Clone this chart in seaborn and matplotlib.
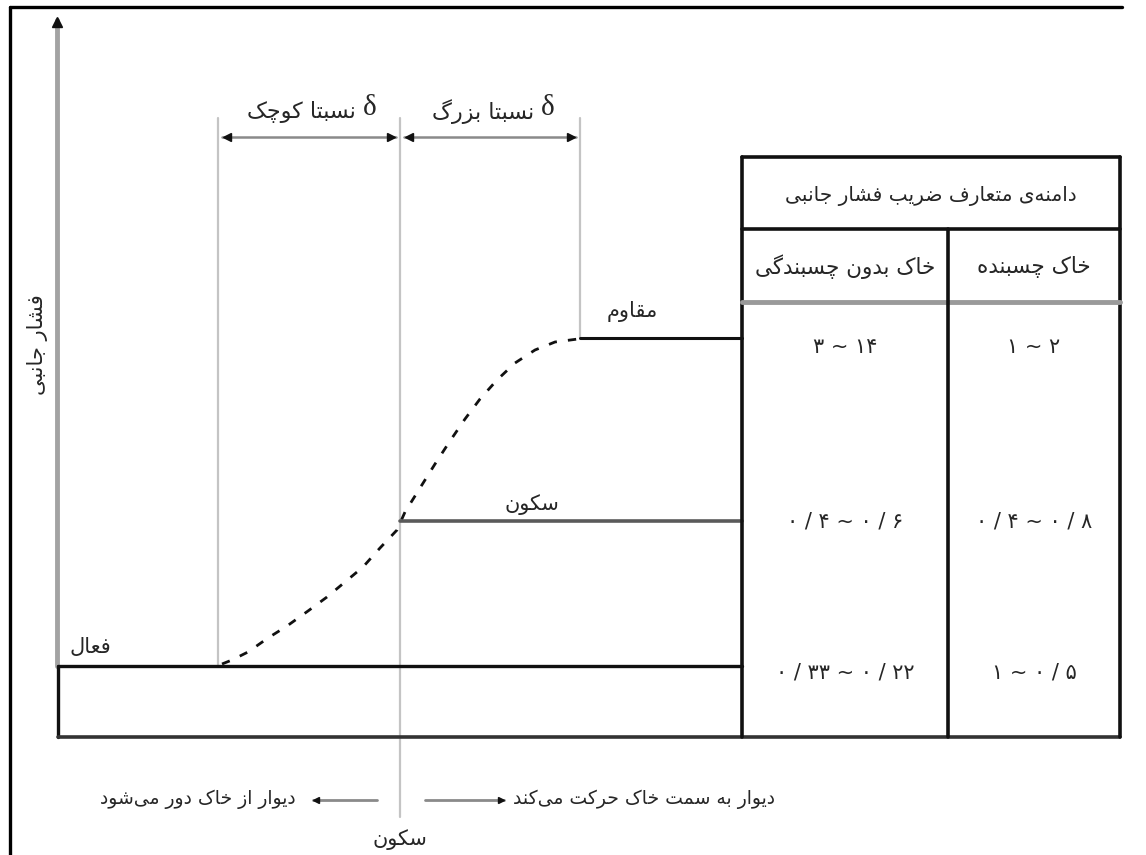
import matplotlib
matplotlib.use("Agg")
import matplotlib.pyplot as plt
import seaborn as sns

# Lateral earth pressure vs wall movement (drawing units, y grows downwards)
curve_x = [222, 232, 248, 268, 287, 308, 327, 345, 363, 380, 397, 405, 420, 435, 450, 465, 480, 497, 515, 535, 555, 578]
curve_y = [664, 660, 652, 638, 626, 611, 597, 582, 567, 548, 530, 512, 488, 464, 441, 419, 399, 380, 363, 350, 342, 339]

# pressure levels and wall positions
level_names = ["فعال", "سکون", "مقاوم"]
level_y = [666, 521, 338]
move_x = [218, 400, 580]
table_left, table_mid, table_right = 742, 948, 1120

# table of coefficients (rows: passive, at rest, active)
table_title = "دامنه‌ی متعارف ضریب فشار جانبی"
col_titles = ["خاک بدون چسبندگی", "خاک چسبنده"]
cohesionless = [("3", "14"), ("0/4", "0/6"), ("0/33", "0/22")]
cohesive = [("1", "2"), ("0/4", "0/8"), ("1", "0/5")]

y_label = "فشار جانبی"
small_label = "نسبتا کوچک"
large_label = "نسبتا بزرگ"
away_label = "دیوار از خاک دور می‌شود"
toward_label = "دیوار به سمت خاک حرکت می‌کند"

# --- minimal persian shaping (matplotlib has no bidi / shaping) ---
FORMS = {
    'ا': ('\uFE8D', '\uFE8E', None, None),
    'آ': ('\uFE81', '\uFE82', None, None),
    'ب': ('\uFE8F', '\uFE90', '\uFE91', '\uFE92'),
    'پ': ('\uFB56', '\uFB57', '\uFB58', '\uFB59'),
    'ت': ('\uFE95', '\uFE96', '\uFE97', '\uFE98'),
    'ث': ('\uFE99', '\uFE9A', '\uFE9B', '\uFE9C'),
    'ج': ('\uFE9D', '\uFE9E', '\uFE9F', '\uFEA0'),
    'چ': ('\uFB7A', '\uFB7B', '\uFB7C', '\uFB7D'),
    'ح': ('\uFEA1', '\uFEA2', '\uFEA3', '\uFEA4'),
    'خ': ('\uFEA5', '\uFEA6', '\uFEA7', '\uFEA8'),
    'د': ('\uFEA9', '\uFEAA', None, None),
    'ذ': ('\uFEAB', '\uFEAC', None, None),
    'ر': ('\uFEAD', '\uFEAE', None, None),
    'ز': ('\uFEAF', '\uFEB0', None, None),
    'ژ': ('\uFB8A', '\uFB8B', None, None),
    'س': ('\uFEB1', '\uFEB2', '\uFEB3', '\uFEB4'),
    'ش': ('\uFEB5', '\uFEB6', '\uFEB7', '\uFEB8'),
    'ص': ('\uFEB9', '\uFEBA', '\uFEBB', '\uFEBC'),
    'ض': ('\uFEBD', '\uFEBE', '\uFEBF', '\uFEC0'),
    'ط': ('\uFEC1', '\uFEC2', '\uFEC3', '\uFEC4'),
    'ظ': ('\uFEC5', '\uFEC6', '\uFEC7', '\uFEC8'),
    'ع': ('\uFEC9', '\uFECA', '\uFECB', '\uFECC'),
    'غ': ('\uFECD', '\uFECE', '\uFECF', '\uFED0'),
    'ف': ('\uFED1', '\uFED2', '\uFED3', '\uFED4'),
    'ق': ('\uFED5', '\uFED6', '\uFED7', '\uFED8'),
    'ک': ('\uFB8E', '\uFB8F', '\uFB90', '\uFB91'),
    'گ': ('\uFB92', '\uFB93', '\uFB94', '\uFB95'),
    'ل': ('\uFEDD', '\uFEDE', '\uFEDF', '\uFEE0'),
    'م': ('\uFEE1', '\uFEE2', '\uFEE3', '\uFEE4'),
    'ن': ('\uFEE5', '\uFEE6', '\uFEE7', '\uFEE8'),
    'ه': ('\uFEE9', '\uFEEA', '\uFEEB', '\uFEEC'),
    'و': ('\uFEED', '\uFEEE', None, None),
    'ی': ('\uFBFC', '\uFBFD', '\uFBFE', '\uFBFF'),
}


def fa(s):
    out = []
    for i, ch in enumerate(s):
        if ch not in FORMS:
            if ch != '\u200c':
                out.append(ch)
            continue
        prev = s[i - 1] if i > 0 else ''
        nxt = s[i + 1] if i + 1 < len(s) else ''
        pj = prev in FORMS and FORMS[prev][2] is not None
        nj = FORMS[ch][2] is not None and nxt in FORMS
        f = FORMS[ch]
        out.append(f[3] if pj and nj else f[1] if pj else f[2] if nj else f[0])
    return ''.join(reversed(out))


DIGITS = str.maketrans("0123456789", "۰۱۲۳۴۵۶۷۸۹")


def fa_range(pair):
    a, b = [p.translate(DIGITS).replace("/", " / ") for p in pair]
    return f"{a} ~ {b}"


def seg(xs, ys, **kw):
    # straight segment through seaborn, no aggregation
    sns.lineplot(x=xs, y=ys, ax=ax, sort=False, estimator=None, **kw)


sns.set_theme(style="white")
plt.rcParams['font.family'] = ['DejaVu Sans']

fig = plt.figure(figsize=(11.46, 8.55), dpi=100)
ax = fig.add_axes([0, 0, 1, 1])
ax.set_xlim(0, 1146)
ax.set_ylim(855, 0)
ax.axis("off")

black = "#111111"
light = "#c4c4c4"
fs = 15

# frame
seg([10, 1122], [7, 7], color="black", lw=2.4)
seg([10, 10], [7, 855], color="black", lw=2.4)

# pressure axis
seg([57, 57], [20, 666], color="#a3a3a3", lw=3.5)
ax.plot([57], [22], marker="^", color=black, ms=7, zorder=3)
ax.text(38, 345, fa(y_label), rotation=90, ha="center", va="center", fontsize=fs)

# guide verticals
bottoms = [level_y[0], 817, level_y[2]]
for x, bottom in zip(move_x, bottoms):
    seg([x, x], [118, bottom], color=light, lw=1.6)

# dimension arrows
for x0, x1 in [(move_x[0], move_x[1]), (move_x[1], move_x[2])]:
    ax.plot([x0 + 4, x1 - 4], [137, 137], color="#8a8a8a", lw=1.8)
    ax.plot([x0 + 9], [137], marker="<", color=black, ms=6)
    ax.plot([x1 - 9], [137], marker=">", color=black, ms=6)

for label, x_right in [(small_label, move_x[1] - 44), (large_label, move_x[2] - 46)]:
    ax.text(x_right, 112, fa(label), ha="right", va="center", fontsize=fs + 1)
    ax.text(x_right + 14, 108, "δ", ha="center", va="center", fontsize=21, family="Liberation Serif")

# pressure curve
seg(curve_x, curve_y, color=black, lw=2, linestyle=(0, (3, 4)))

# horizontal pressure levels
seg([58, table_left], [level_y[0]] * 2, color=black, lw=2.4)
seg([move_x[1], table_left], [level_y[1]] * 2, color="#5a5a5a", lw=2.6)
seg([move_x[2], table_left], [level_y[2]] * 2, color=black, lw=2.2)

ax.text(90, 647, fa(level_names[0]), ha="center", va="center", fontsize=fs)
ax.text(532, 505, fa(level_names[1]), ha="center", va="center", fontsize=fs)
ax.text(632, 311, fa(level_names[2]), ha="center", va="center", fontsize=fs)

# lower box
seg([58, 58], [level_y[0], 737], color=black, lw=2.4)
seg([58, table_right], [737, 737], color="#333333", lw=2.6)

# table
seg([table_left, table_left], [157, 737], color=black, lw=2.6)
seg([table_right, table_right], [157, 737], color=black, lw=2.6)
seg([table_left, table_right], [157, 157], color=black, lw=2.6)
seg([table_left, table_right], [229, 229], color=black, lw=2.6)
seg([table_left, table_right], [302, 302], color="#9a9a9a", lw=3.5)
seg([table_mid, table_mid], [229, 737], color=black, lw=2.6)

col_x = [(table_left + table_mid) / 2, (table_mid + table_right) / 2]
ax.text((table_left + table_right) / 2, 196, fa(table_title), ha="center", va="center", fontsize=fs - 0.5)
for cx, title in zip(col_x, col_titles):
    ax.text(cx, 267, fa(title), ha="center", va="center", fontsize=fs + 0.5)

row_y = [347, 521, 672]
for cx, values in zip(col_x, [cohesionless, cohesive]):
    for ry, pair in zip(row_y, values):
        ax.text(cx, ry, fa_range(pair), ha="center", va="center", fontsize=fs)

# movement direction arrows
ax.plot([313, 377], [800, 800], color="#8a8a8a", lw=2)
ax.plot([316], [800], marker="<", color=black, ms=5)
ax.plot([425, 504], [800, 800], color="#8a8a8a", lw=2)
ax.plot([501], [800], marker=">", color=black, ms=5)
ax.text(296, 799, fa(away_label), ha="right", va="center", fontsize=fs - 1.5)
ax.text(513, 799, fa(toward_label), ha="left", va="center", fontsize=fs - 1.5)
ax.text(move_x[1], 840, fa(level_names[1]), ha="center", va="center", fontsize=fs)

fig.savefig("out.png", dpi=100, facecolor="white")
